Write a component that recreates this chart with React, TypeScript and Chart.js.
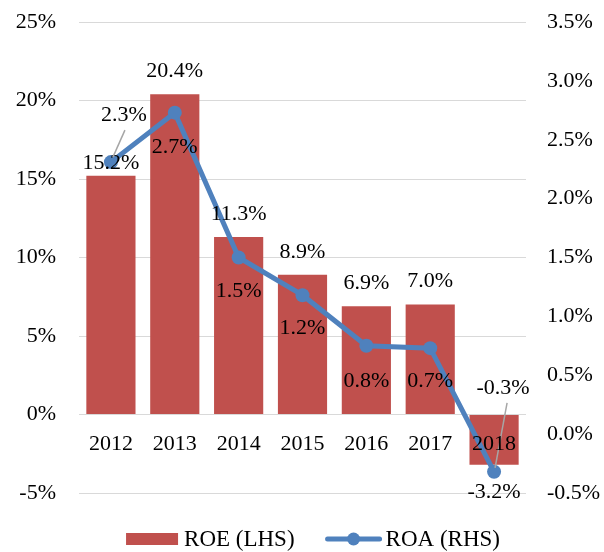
import React, { useEffect, useRef } from "react";
import { Chart, registerables } from "chart.js";

Chart.register(...registerables);

// ---------- data ----------
const categories = ["2012", "2013", "2014", "2015", "2016", "2017", "2018"];
const roeValues = [15.2, 20.4, 11.3, 8.9, 6.9, 7.0, -3.2];
const roaValues = [2.31, 2.73, 1.5, 1.18, 0.75, 0.73, -0.32];
const roeLabel = "ROE (LHS)";
const roaLabel = "ROA (RHS)";
const leftAxisRange = [-5, 25];
const leftAxisStep = 5;
const rightAxisRange = [-0.5, 3.5];
const rightAxisStep = 0.5;

// ---------- styles ----------
const RED = "#C0504D";
const BLUE = "#4F81BD";
const GRID = "#D9D9D9";
const LEADER = "#A6A6A6";
const FONT = '"Liberation Serif", "Times New Roman", serif';
const FS = 22;
const LEGEND_FS = 23;

// label placement offsets (pixels, relative to the drawn marks)
const barLabelOffsets = [-13, -23, -23, -23, -23, -23, 27];
const lineLabelOffsets: number[][] = [
  [13, -47],
  [0, 35],
  [0, 34],
  [0, 33],
  [0, 35],
  [0, 33],
  [9, -84],
];
const leaderLines: Record<number, number[][]> = {
  0: [
    [14, -32],
    [2, -5],
  ],
  6: [
    [13, -69],
    [1, -4],
  ],
};

const zeroPad = (s: any) => {
  s.paddingTop = 0;
  s.paddingBottom = 0;
  s.paddingLeft = 0;
  s.paddingRight = 0;
};

const labelPlugin = {
  id: "valueLabels",
  afterDatasetsDraw(chart: any) {
    const ctx = chart.ctx;
    ctx.save();
    ctx.font = `${FS}px ${FONT}`;
    ctx.fillStyle = "#000";
    ctx.textAlign = "center";
    ctx.textBaseline = "middle";
    const barMeta = chart.getDatasetMeta(0);
    barMeta.data.forEach((el: any, i: number) => {
      ctx.fillText(roeValues[i].toFixed(1) + "%", el.x, el.y + barLabelOffsets[i]);
    });
    const lineMeta = chart.getDatasetMeta(1);
    ctx.strokeStyle = LEADER;
    ctx.lineWidth = 1.5;
    lineMeta.data.forEach((el: any, i: number) => {
      const ld = leaderLines[i];
      if (ld) {
        ctx.beginPath();
        ctx.moveTo(el.x + ld[0][0], el.y + ld[0][1]);
        ctx.lineTo(el.x + ld[1][0], el.y + ld[1][1]);
        ctx.stroke();
      }
    });
    lineMeta.data.forEach((el: any, i: number) => {
      const [dx, dy] = lineLabelOffsets[i];
      ctx.fillText(roaValues[i].toFixed(1) + "%", el.x + dx, el.y + dy);
    });
    ctx.restore();
  },
};

const legendPlugin = {
  id: "customLegend",
  afterDraw(chart: any) {
    const ctx = chart.ctx;
    const ds = chart.data.datasets;
    ctx.save();
    ctx.font = `${LEGEND_FS}px ${FONT}`;
    ctx.textBaseline = "middle";
    ctx.textAlign = "left";
    const boxW = 52;
    const lineW = 56;
    const gap1 = 6;
    const gap2 = 4;
    const itemGap = 31;
    const t1 = ctx.measureText(ds[0].label).width;
    const t2 = ctx.measureText(ds[1].label).width;
    const total = boxW + gap1 + t1 + itemGap + lineW + gap2 + t2;
    let x = chart.width / 2 + 11 - total / 2;
    const y = chart.chartArea.bottom + 46;
    ctx.fillStyle = ds[0].backgroundColor;
    ctx.fillRect(x, y - 6, boxW, 12);
    x += boxW + gap1;
    ctx.fillStyle = "#000";
    ctx.fillText(ds[0].label, x, y + 1);
    x += t1 + itemGap;
    ctx.strokeStyle = ds[1].borderColor;
    ctx.lineWidth = 5;
    ctx.lineCap = "round";
    ctx.beginPath();
    ctx.moveTo(x + 2, y);
    ctx.lineTo(x + lineW - 2, y);
    ctx.stroke();
    ctx.fillStyle = ds[1].borderColor;
    ctx.beginPath();
    ctx.arc(x + lineW / 2, y, 6.5, 0, Math.PI * 2);
    ctx.fill();
    x += lineW + gap2;
    ctx.fillStyle = "#000";
    ctx.fillText(ds[1].label, x, y + 1);
    ctx.restore();
  },
};

export default function App() {
  const ref = useRef<HTMLCanvasElement | null>(null);

  useEffect(() => {
    if (!ref.current) return;
    const chart = new Chart(ref.current, {
      type: "bar",
      data: {
        labels: categories,
        datasets: [
          {
            type: "bar",
            label: roeLabel,
            data: roeValues,
            backgroundColor: RED,
            borderWidth: 0,
            yAxisID: "y",
            order: 2,
            barPercentage: 0.77,
            categoryPercentage: 1,
          } as any,
          {
            type: "line",
            label: roaLabel,
            data: roaValues,
            borderColor: BLUE,
            backgroundColor: BLUE,
            borderWidth: 5,
            pointRadius: 7,
            pointBackgroundColor: BLUE,
            pointBorderColor: BLUE,
            pointBorderWidth: 0,
            tension: 0,
            yAxisID: "y1",
            order: 1,
          } as any,
        ],
      },
      options: {
        responsive: false,
        animation: false,
        devicePixelRatio: 1,
        layout: { padding: { top: 22, bottom: 59, left: 0, right: 0 } },
        plugins: {
          legend: { display: false },
          tooltip: { enabled: false },
        },
        scales: {
          x: {
            type: "category",
            position: { y: 0 } as any,
            offset: true,
            grid: { display: false, drawTicks: false },
            border: { display: false },
            afterFit: zeroPad,
            ticks: {
              z: 1,
              color: "#000",
              font: { family: FONT, size: FS },
              padding: 17,
              maxRotation: 0,
              autoSkip: false,
            },
          },
          y: {
            position: "left",
            min: leftAxisRange[0],
            max: leftAxisRange[1],
            grid: { color: GRID, lineWidth: 1, drawTicks: false },
            border: { display: false },
            afterFit: (s: any) => {
              s.width = 79;
              zeroPad(s);
            },
            ticks: {
              stepSize: leftAxisStep,
              color: "#000",
              font: { family: FONT, size: FS },
              padding: 23,
              callback: (v: any) => `${v}%`,
            },
          },
          y1: {
            position: "right",
            min: rightAxisRange[0],
            max: rightAxisRange[1],
            grid: { display: false, drawTicks: false },
            border: { display: false },
            afterFit: (s: any) => {
              s.width = 78;
              zeroPad(s);
            },
            ticks: {
              stepSize: rightAxisStep,
              color: "#000",
              font: { family: FONT, size: FS },
              padding: 21,
              callback: (v: any) => `${Number(v).toFixed(1)}%`,
            },
          },
        },
      } as any,
      plugins: [labelPlugin, legendPlugin],
    });
    return () => chart.destroy();
  }, []);

  return (
    <div style={{ position: "absolute", left: 0, top: 0, width: 604, height: 552, background: "#fff" }}>
      <canvas ref={ref} width={604} height={552} />
    </div>
  );
}
